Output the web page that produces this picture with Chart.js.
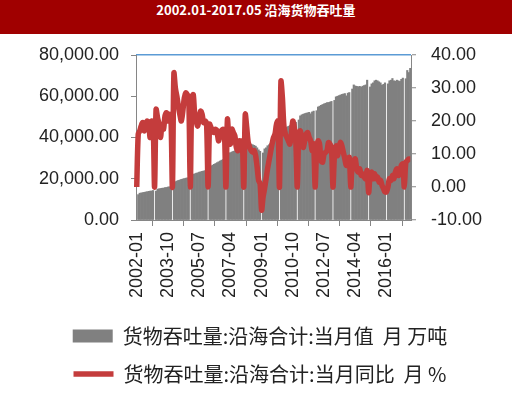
<!DOCTYPE html>
<html lang="zh-CN">
<head>
<meta charset="UTF-8">
<title>沿海货物吞吐量</title>
<script src="https://cdn.jsdelivr.net/npm/chart.js"></script>
<style>
  body { margin: 0; background: #fff; }
  .titlebar {
    position: absolute; left: 0; top: 0; width: 512px; height: 34px;
    background: #a00000; color: #fff; text-align: center; line-height: 34px;
    font: bold 13px "Noto Sans CJK SC", sans-serif;
  }
  .wrap { position: absolute; left: 0; top: 34px; width: 520px; height: 360px; }
</style>
</head>
<body>
<div class="titlebar">2002.01-2017.05 沿海货物吞吐量</div>
<div class="wrap"><canvas id="chart"></canvas></div>

<script>
  // 月份: 2002-01 .. 2017-05
  const years = [2002, 2003, 2004, 2005, 2006, 2007, 2008, 2009, 2010, 2011, 2012, 2013, 2014, 2015, 2016, 2017];
  const lastMonth = 5;
  const months = [];
  years.forEach(y => {
    for (let m = 1; m <= 12; m++) {
      if (y === 2017 && m > lastMonth) break;
      months.push(y + '-' + String(m).padStart(2, '0'));
    }
  });

  // 当月值 (万吨), 一月无数据
  const throughput = [
    null, 12300, 13000, 13100, 13300, 13400, 13600, 13700, 13900, 14000, 14100, 14300, // 2002
    null, 14000, 15000, 15100, 15300, 15400, 15500, 15700, 15800, 16000, 16100, 16300, // 2003
    null, 17500, 18600, 18900, 19200, 19400, 19700, 19900, 20100, 20300, 20400, 20700, // 2004
    null, 21300, 22200, 22400, 22700, 22900, 23200, 23400, 23600, 23800, 23900, 24200, // 2005
    null, 25000, 26200, 26600, 27000, 27400, 27800, 28200, 28600, 29000, 29300, 29700, // 2006
    null, 31000, 32400, 32700, 33000, 33300, 33600, 33900, 34200, 34400, 34600, 34900, // 2007
    null, 34500, 36000, 36300, 36600, 36800, 36500, 36200, 35800, 35000, 34000, 33300, // 2008
    null, 32500, 34500, 35000, 36000, 36500, 37200, 37800, 38300, 38800, 39300, 39900, // 2009
    null, 42000, 43500, 44000, 44500, 45000, 45400, 45800, 46200, 46600, 47000, 47400, // 2010
    null, 48500, 50500, 51000, 51300, 51600, 51800, 52000, 52200, 51500, 52400, 52800, // 2011
    null, 53000, 54800, 55200, 55600, 56000, 56300, 56600, 56900, 57000, 57200, 57500, // 2012
    null, 58000, 59700, 60000, 60300, 60600, 60900, 61100, 61300, 60200, 61500, 61800, // 2013
    null, 63500, 65500, 65000, 64800, 64600, 64800, 64500, 64900, 65200, 65500, 67800, // 2014
    null, 64500, 66000, 66500, 67500, 67800, 67500, 67000, 66500, 65400, 65800, 66500, // 2015
    null, 66000, 67500, 67800, 68600, 67500, 67300, 67800, 67500, 67200, 68200, 68800, // 2016
    null, 68500, 72500, 71500, 73500                                                     // 2017
  ];

  // 当月同比 (%)
  const yoy = [
    0, 16, 17, 18.5, 19.5, 17, 19, 20, 19.5, 15, 20, 19.5,          // 2002
    0, 23.5, 21, 19, 15, 19, 17.5, 21.5, 22.5, 20, 22, 21,          // 2003
    0, 34.5, 30, 27.5, 24.5, 22, 20, 23, 27, 28.5, 28, 27,          // 2004
    0, 26, 28, 22, 20, 18.5, 21, 23, 22, 19.5, 20, 19,              // 2005
    0, 19, 18, 17, 16.5, 17.5, 17, 14, 15.5, 17, 17.5, 16.5,        // 2006
    0, 20.5, 15, 13, 17.5, 16.5, 15.5, 12, 11, 14, 13, 14,          // 2007
    0, 22, 18, 13.5, 12, 11, 10.5, 11, 9.5, 6, 2, 1,                // 2008
    -7, -3, -0.5, 2.5, 5.5, 8, 10.5, 13, 15, 16, 19, 20,            // 2009
    0, 32, 27, 18.5, 16, 15, 14, 13, 16, 20, 18, 14,                // 2010
    0, 16, 17, 15, 12, 14, 16, 16.5, 15, 14, 11, 13,                // 2011
    0, 11, 14, 13, 8, 7.5, 10, 10.5, 11, 13.5, 13, 12,              // 2012
    0, 9.5, 12.5, 9.5, 11.5, 13.5, 12.5, 10.5, 8.5, 6.5, 8.5, 9,    // 2013
    0, 7.5, 8, 8.5, 5.5, 4.5, 5.5, 3.5, 4, 3, 2.5, 5,               // 2014
    -1.7, 3.5, 4.5, 2.5, 4, 2.5, 3, 1.5, 2, 0.5, -0.5, -1.5,        // 2015
    -1.5, 0, 2.5, 2, 3.5, 2.5, 4.5, 5.5, 3.5, 4.5, 6.5, 7,          // 2016
    0, 7.5, 8, 8.5, 8.5                                             // 2017
  ];

  // 坐标轴刻度
  const shownMonths = ['2002-01', '2003-10', '2005-07', '2007-04', '2009-01', '2010-10', '2012-07', '2014-04', '2016-01'];
  const leftTicks = [0, 20000, 40000, 60000, 80000];
  const rightTicks = [-10, 0, 10, 20, 30, 40];

  const tickFont = { family: '"Liberation Sans", Arial, sans-serif', size: 18 };
  const axisGray = '#868686';

  const ctx = document.getElementById('chart').getContext('2d');
  new Chart(ctx, {
    type: 'bar',
    data: {
      labels: months,
      datasets: [
        {
          label: '货物吞吐量:沿海合计:当月值\u00a0\u00a0月 万吨',
          data: throughput,
          backgroundColor: '#808080',
          borderWidth: 0,
          barPercentage: 1.0,
          categoryPercentage: 1.0,
          pointStyle: 'rect',
          yAxisID: 'y',
          order: 2
        },
        {
          type: 'line',
          label: '货物吞吐量:沿海合计:当月同比\u00a0\u00a0月 %',
          data: yoy,
          borderColor: '#c43c3c',
          backgroundColor: '#c43c3c',
          borderWidth: 5.5,
          tension: 0.3,
          pointRadius: 0,
          pointStyle: 'line',
          yAxisID: 'y1',
          order: 1
        }
      ]
    },
    options: {
      responsive: true,
      maintainAspectRatio: false,
      animation: false,
      layout: { padding: { top: 21, left: 0, right: 0, bottom: 0 } },
      plugins: {
        tooltip: { enabled: false },
        legend: {
          position: 'bottom',
          labels: {
            usePointStyle: true,
            pointStyleWidth: 40,
            boxHeight: 13,
            padding: 18,
            color: '#222',
            font: { family: '"Noto Sans CJK SC", sans-serif', size: 20 },
            sort: (a, b) => a.datasetIndex - b.datasetIndex
          }
        }
      },
      scales: {
        x: {
          grid: { drawOnChartArea: false, tickLength: 6, color: axisGray },
          border: { color: axisGray },
          ticks: {
            autoSkip: false,
            minRotation: 90,
            maxRotation: 90,
            padding: 6,
            color: '#222',
            font: tickFont,
            callback: function (v, i) {
              const lab = months[i];
              return shownMonths.includes(lab) ? lab : null;
            }
          },
          afterFit: s => { s.height = 88; }
        },
        y: {
          position: 'left',
          min: leftTicks[0],
          max: leftTicks[leftTicks.length - 1],
          grid: { drawOnChartArea: false, tickLength: 5, color: axisGray },
          border: { color: axisGray },
          ticks: {
            stepSize: leftTicks[1] - leftTicks[0],
            padding: 12,
            color: '#222',
            font: tickFont,
            callback: v => v.toLocaleString('en-US', { minimumFractionDigits: 2, maximumFractionDigits: 2 })
          },
          afterFit: s => { s.width = 136; s.paddingTop = 11; s.paddingBottom = 11; }
        },
        y1: {
          position: 'right',
          min: rightTicks[0],
          max: rightTicks[rightTicks.length - 1],
          grid: {
            drawOnChartArea: true,
            color: c => (c.tick && c.tick.value === rightTicks[rightTicks.length - 1]) ? '#5b9bd5' : 'rgba(0,0,0,0)',
            lineWidth: 1.5,
            tickColor: axisGray,
            tickWidth: 1,
            tickLength: 5
          },
          border: { color: axisGray },
          ticks: {
            stepSize: rightTicks[1] - rightTicks[0],
            padding: 15,
            color: '#222',
            font: tickFont,
            callback: v => v.toFixed(2)
          },
          afterFit: s => { s.width = 109; s.paddingTop = 11; s.paddingBottom = 11; }
        }
      }
    }
  });
</script>
</body>
</html>
